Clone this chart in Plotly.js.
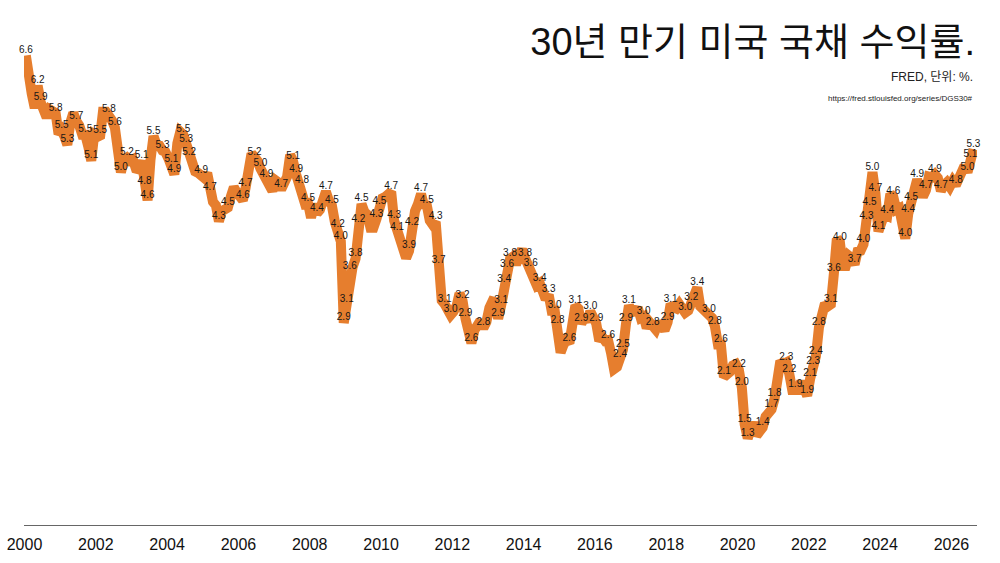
<!DOCTYPE html>
<html>
<head>
<meta charset="utf-8">
<script src="https://cdn.plot.ly/plotly-3.0.1.min.js"></script>
<style>
html, body { margin: 0; padding: 0; background: #ffffff; }
#chart { width: 1000px; height: 563px; }
</style>
</head>
<body>
<div id="chart"></div>
<script>
// Monthly 30-year Treasury yield (%)
const y2000 = [6.58, 6.23, 6.05, 5.85, 6.16, 5.93, 5.85, 5.72, 5.83, 5.80, 5.78, 5.49];
const y2001 = [5.54, 5.45, 5.34, 5.65, 5.78, 5.67, 5.61, 5.48, 5.48, 5.32, 5.12, 5.48];
const y2002 = [5.45, 5.47, 5.80, 5.80, 5.76, 5.68, 5.58, 5.28, 4.96, 5.13, 5.16, 5.12];
const y2003 = [5.14, 5.01, 5.00, 5.12, 4.76, 4.57, 5.13, 5.46, 5.34, 5.33, 5.26, 5.24];
const y2004 = [5.15, 5.07, 4.93, 5.36, 5.52, 5.48, 5.34, 5.16, 5.00, 4.97, 4.95, 4.92];
const y2005 = [4.88, 4.95, 4.68, 4.55, 4.50, 4.28, 4.42, 4.47, 4.47, 4.62, 4.75, 4.68];
const y2006 = [4.62, 4.57, 4.74, 4.95, 5.22, 5.17, 5.12, 5.01, 4.93, 4.86, 4.72, 4.70];
const y2007 = [4.85, 4.82, 4.72, 4.87, 4.90, 5.20, 5.11, 4.93, 4.79, 4.77, 4.52, 4.53];
const y2008 = [4.33, 4.52, 4.39, 4.44, 4.60, 4.69, 4.57, 4.50, 4.27, 4.17, 4.00, 2.87];
const y2009 = [3.13, 3.59, 3.64, 3.76, 4.23, 4.52, 4.41, 4.37, 4.19, 4.19, 4.31, 4.49];
const y2010 = [4.60, 4.62, 4.64, 4.69, 4.29, 4.13, 3.99, 3.80, 3.77, 3.87, 4.19, 4.42];
const y2011 = [4.52, 4.66, 4.51, 4.50, 4.29, 4.23, 4.27, 3.66, 3.18, 3.13, 3.02, 2.98];
const y2012 = [3.03, 3.11, 3.28, 3.18, 2.93, 2.70, 2.59, 2.77, 2.88, 2.90, 2.80, 2.88];
const y2013 = [3.08, 3.17, 3.16, 2.93, 3.11, 3.40, 3.61, 3.76, 3.79, 3.68, 3.80, 3.89];
const y2014 = [3.77, 3.66, 3.62, 3.52, 3.39, 3.42, 3.33, 3.20, 3.26, 3.04, 3.04, 2.83];
const y2015 = [2.46, 2.57, 2.63, 2.59, 2.96, 3.11, 3.07, 2.86, 2.95, 2.89, 3.03, 2.97];
const y2016 = [2.86, 2.62, 2.68, 2.62, 2.63, 2.45, 2.23, 2.26, 2.36, 2.50, 2.86, 3.11];
const y2017 = [3.02, 3.03, 3.08, 2.94, 2.96, 2.80, 2.88, 2.80, 2.78, 2.88, 2.80, 2.77];
const y2018 = [2.88, 3.13, 3.09, 3.07, 3.13, 3.05, 3.01, 3.04, 3.16, 3.34, 3.36, 3.10];
const y2019 = [3.04, 3.02, 2.98, 2.94, 2.82, 2.57, 2.57, 2.12, 2.16, 2.19, 2.28, 2.30];
const y2020 = [2.22, 1.97, 1.46, 1.27, 1.38, 1.49, 1.31, 1.36, 1.42, 1.57, 1.62, 1.67];
const y2021 = [1.82, 2.04, 2.34, 2.30, 2.32, 2.16, 1.94, 1.94, 1.94, 2.06, 1.94, 1.86];
const y2022 = [2.10, 2.27, 2.41, 2.81, 3.07, 3.14, 3.10, 3.13, 3.56, 4.04, 3.99, 3.66];
const y2023 = [3.66, 3.80, 3.77, 3.68, 3.86, 3.87, 3.96, 4.28, 4.47, 4.96, 4.66, 4.14];
const y2024 = [4.26, 4.38, 4.36, 4.66, 4.62, 4.44, 4.46, 4.15, 4.04, 4.38, 4.54, 4.58];
const y2025 = [4.86, 4.72, 4.62, 4.71, 4.90, 4.89, 4.93, 4.88, 4.70, 4.78, 4.82, 4.76];
const y2026 = [4.84, 4.78, 4.88, 4.95, 5.05, 4.96, 5.13, 5.28];

// Months whose value is printed on the chart
const labelMonths = [
  '2000-01','2000-05','2000-06','2000-11','2001-01','2001-03','2001-06','2001-09','2001-11',
  '2002-02','2002-05','2002-07','2002-09','2002-11','2003-04','2003-05','2003-06','2003-08','2003-11',
  '2004-02','2004-03','2004-06','2004-07','2004-08','2004-12','2005-03','2005-06','2005-09',
  '2006-02','2006-03','2006-06','2006-08','2006-10','2007-03','2007-07','2007-08','2007-10','2007-12',
  '2008-03','2008-06','2008-08','2008-10','2008-11','2008-12','2009-01','2009-02','2009-04','2009-05',
  '2009-06','2009-11','2009-12','2010-04','2010-05','2010-06','2010-10','2010-11','2011-02','2011-04',
  '2011-07','2011-08','2011-10','2011-12','2012-04','2012-05','2012-07','2012-11','2013-04','2013-05',
  '2013-06','2013-07','2013-08','2014-01','2014-03','2014-06','2014-09','2014-11','2014-12','2015-04',
  '2015-06','2015-08','2015-11','2016-01','2016-05','2016-09','2016-10','2016-11','2016-12','2017-05',
  '2017-08','2018-01','2018-02','2018-07','2018-09','2018-11','2019-03','2019-05','2019-07','2019-08',
  '2020-01','2020-02','2020-03','2020-04','2020-09','2020-12','2021-01','2021-05','2021-06','2021-08',
  '2021-12','2022-01','2022-02','2022-03','2022-04','2022-08','2022-09','2022-11','2023-04','2023-07',
  '2023-08','2023-09','2023-10','2023-11','2023-12','2024-03','2024-05','2024-09','2024-10','2024-11',
  '2025-01','2025-04','2025-07','2025-09','2026-02','2026-06','2026-07','2026-08'
];

const tickYears = ['2000','2002','2004','2006','2008','2010','2012','2014','2016','2018','2020','2022','2024','2026'];

const titleText = '30년 만기 미국 국채 수익률.';
const subtitleText = 'FRED, 단위: %.';
const sourceUrl = 'https://fred.stlouisfed.org/series/DGS30#';

// ---- build the table Plotly needs ----
const seriesByYear = [
  [2000, y2000], [2001, y2001], [2002, y2002], [2003, y2003], [2004, y2004], [2005, y2005],
  [2006, y2006], [2007, y2007], [2008, y2008], [2009, y2009], [2010, y2010], [2011, y2011],
  [2012, y2012], [2013, y2013], [2014, y2014], [2015, y2015], [2016, y2016], [2017, y2017],
  [2018, y2018], [2019, y2019], [2020, y2020], [2021, y2021], [2022, y2022], [2023, y2023],
  [2024, y2024], [2025, y2025], [2026, y2026]
];
const dates = [];
const yields = [];
seriesByYear.forEach(function (pair) {
  const yr = pair[0];
  pair[1].forEach(function (v, i) {
    dates.push(yr + '-' + String(i + 1).padStart(2, '0') + '-15');
    yields.push(v);
  });
});

const lblX = [], lblY = [], lblT = [];
labelMonths.forEach(function (mo) {
  const idx = dates.indexOf(mo + '-15');
  if (idx >= 0) {
    lblX.push(dates[idx]);
    lblY.push(yields[idx]);
    lblT.push(yields[idx].toFixed(1));
  }
});

const lineTrace = {
  type: 'scatter',
  mode: 'lines',
  x: dates,
  y: yields,
  line: { color: '#e67e2e', width: 10, shape: 'linear' },
  cliponaxis: false,
  hoverinfo: 'skip',
  showlegend: false
};

const labelTrace = {
  type: 'scatter',
  mode: 'text',
  x: lblX,
  y: lblY,
  text: lblT,
  textposition: 'top center',
  textfont: { family: 'Liberation Sans, Arial, sans-serif', size: 10, color: '#161616' },
  cliponaxis: false,
  hoverinfo: 'skip',
  showlegend: false
};

const layout = {
  width: 1000,
  height: 563,
  paper_bgcolor: '#ffffff',
  plot_bgcolor: '#ffffff',
  margin: { l: 24, r: 23, t: 40, b: 38 },
  showlegend: false,
  title: {
    text: titleText,
    xref: 'container', yref: 'container',
    x: 0.975, xanchor: 'right',
    y: 1 - 42 / 563, yanchor: 'middle',
    font: { family: 'Liberation Sans, Noto Sans CJK KR, sans-serif', size: 38, color: '#111111' }
  },
  xaxis: {
    type: 'date',
    range: ['1999-12-27', '2026-09-20'],
    tickvals: tickYears.map(function (y) { return y + '-01-01'; }),
    ticktext: tickYears,
    showgrid: false,
    zeroline: false,
    showline: true,
    linecolor: '#666666',
    linewidth: 1,
    ticks: 'outside',
    ticklen: 5,
    tickcolor: 'rgba(0,0,0,0)',
    tickfont: { family: 'Liberation Sans, Arial, sans-serif', size: 16, color: '#111111' }
  },
  yaxis: {
    range: [0.067, 6.794],
    visible: false,
    showgrid: false,
    zeroline: false
  },
  annotations: [
    {
      text: subtitleText,
      xref: 'paper', yref: 'paper',
      x: 0.998, y: (525 - 77) / 485,
      xanchor: 'right', yanchor: 'middle',
      showarrow: false,
      font: { family: 'Liberation Sans, Noto Sans CJK KR, sans-serif', size: 12, color: '#222222' }
    },
    {
      text: sourceUrl,
      xref: 'paper', yref: 'paper',
      x: 0.998, y: (525 - 98) / 485,
      xanchor: 'right', yanchor: 'middle',
      showarrow: false,
      font: { family: 'Liberation Sans, Arial, sans-serif', size: 8, color: '#222222' }
    }
  ]
};

Plotly.newPlot('chart', [lineTrace, labelTrace], layout, { displayModeBar: false, staticPlot: true });
</script>
</body>
</html>
